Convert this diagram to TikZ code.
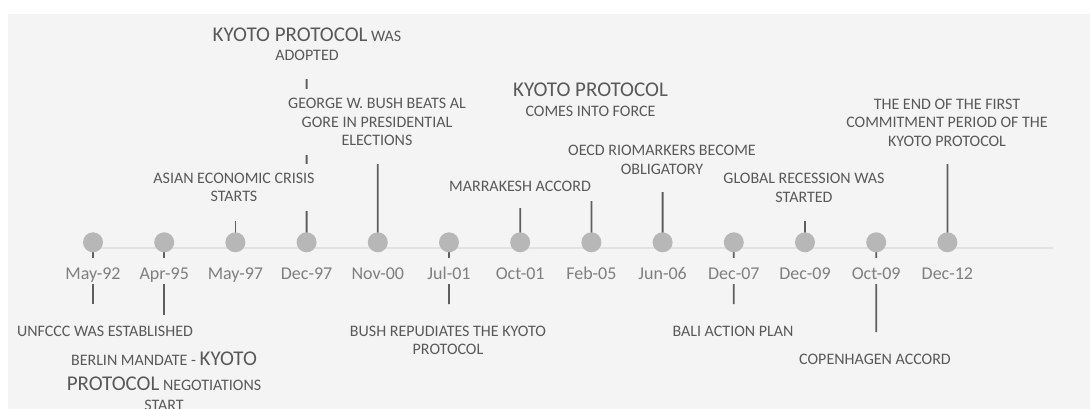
\documentclass[tikz,border=0pt]{standalone}
\usepackage{fontspec}
\setmainfont{Carlito}

\definecolor{panel}{HTML}{F4F4F4}
\definecolor{axisgray}{HTML}{E2E2E2}
\definecolor{dotgray}{HTML}{B7B7B7}
\definecolor{linkgray}{HTML}{5E5E5E}
\definecolor{evtext}{HTML}{595959}
\definecolor{datetext}{HTML}{7F7F7F}

% larger type for the treaty name inside event captions
\newcommand\bigword[1]{{\fontsize{21}{20}\selectfont #1}}

% captions are placed by the baseline of their last line
\tikzset{
  event/.style={font=\fontsize{16}{18.5}\selectfont, text=evtext, fill=panel,
                align=center, anchor=base, inner xsep=6pt, inner ysep=9pt},
  datelabel/.style={font=\fontsize{18}{20}\selectfont, text=datetext, fill=panel,
                anchor=base, inner xsep=3pt, inner ysep=0pt,
                text height=22pt, text depth=4pt},
  milestone/.style={circle, fill=dotgray, minimum size=20pt, inner sep=0pt},
  link/.style={draw=linkgray, line width=1.8pt},
  axis/.style={draw=axisgray, line width=2pt}
}

\begin{document}
\begin{tikzpicture}[x=1pt, y=-1pt]
\useasboundingbox (0,0) rectangle (1090,408);
% panel runs past the right and bottom edges of the page
\fill[panel] (8,14) rectangle (1100,420);

% time axis
\coordinate (axisstart) at (93,248.3);
\coordinate (axisend) at (1053,248.3);
\draw[axis] (axisstart) -- (axisend);

% milestone centres
\foreach \i in {1,...,13} {
  \coordinate (c\i) at ({93+71.2*(\i-1)},242.3);
}

% free ends of the stems
\coordinate (e1)  at (93,304);
\coordinate (e2)  at (164.2,315);
\coordinate (e3)  at (235.4,221);
\coordinate (e4)  at (306.6,79);
\coordinate (e5)  at (377.8,164);
\coordinate (e6)  at (449,304);
\coordinate (e7)  at (520.2,208);
\coordinate (e8)  at (591.4,199);
\coordinate (e9)  at (662.6,192);
\coordinate (e10) at (733.8,304);
\coordinate (e11) at (805,221);
\coordinate (e12) at (876.2,332);
\coordinate (e13) at (947.4,164);

\foreach \i in {1,...,13} {
  \draw[link] (c\i) -- (e\i);
}

% milestones and their dates
\foreach \i/\d in {1/May-92, 2/Apr-95, 3/May-97, 4/Dec-97, 5/Nov-00, 6/Jul-01,
                   7/Oct-01, 8/Feb-05, 9/Jun-06, 10/Dec-07, 11/Dec-09, 12/Oct-09, 13/Dec-12} {
  \node[milestone] (m\i) at (c\i) {};
  \node[datelabel] (d\i) at ({93+71.2*(\i-1)},279.5) {\d};
}

% events above the axis
\node[event] (ev1) at (307,60) {\bigword{KYOTO PROTOCOL} WAS\\ADOPTED};
\node[event] (ev2) at (377,145.5) {GEORGE W. BUSH BEATS AL\\GORE IN PRESIDENTIAL\\ELECTIONS};
\node[event] (ev3) at (234,201.8) {ASIAN ECONOMIC CRISIS\\STARTS};
\node[event] (ev4) at (590.5,116.3) {\bigword{KYOTO PROTOCOL}\\[1pt]COMES INTO FORCE};
\node[event] (ev5) at (662,174) {OECD RIOMARKERS BECOME\\OBLIGATORY};
\node[event] (ev6) at (520,191.5) {MARRAKESH ACCORD};
\node[event] (ev7) at (804,202) {GLOBAL RECESSION WAS\\STARTED};
\node[event] (ev8) at (947,146) {THE END OF THE FIRST\\COMMITMENT PERIOD OF THE\\KYOTO PROTOCOL};

% events below the axis
\node[event] (ev9) at (105,336) {UNFCCC WAS ESTABLISHED};
\node[event] (ev10) at (164,410.5) {BERLIN MANDATE - \bigword{KYOTO}\\[6pt]\bigword{PROTOCOL} NEGOTIATIONS\\[2pt]START};
\node[event] (ev11) at (448,354.5) {BUSH REPUDIATES THE KYOTO\\PROTOCOL};
\node[event] (ev12) at (733,336) {BALI ACTION PLAN};
\node[event] (ev13) at (875,364) {COPENHAGEN ACCORD};
\end{tikzpicture}
\end{document}
